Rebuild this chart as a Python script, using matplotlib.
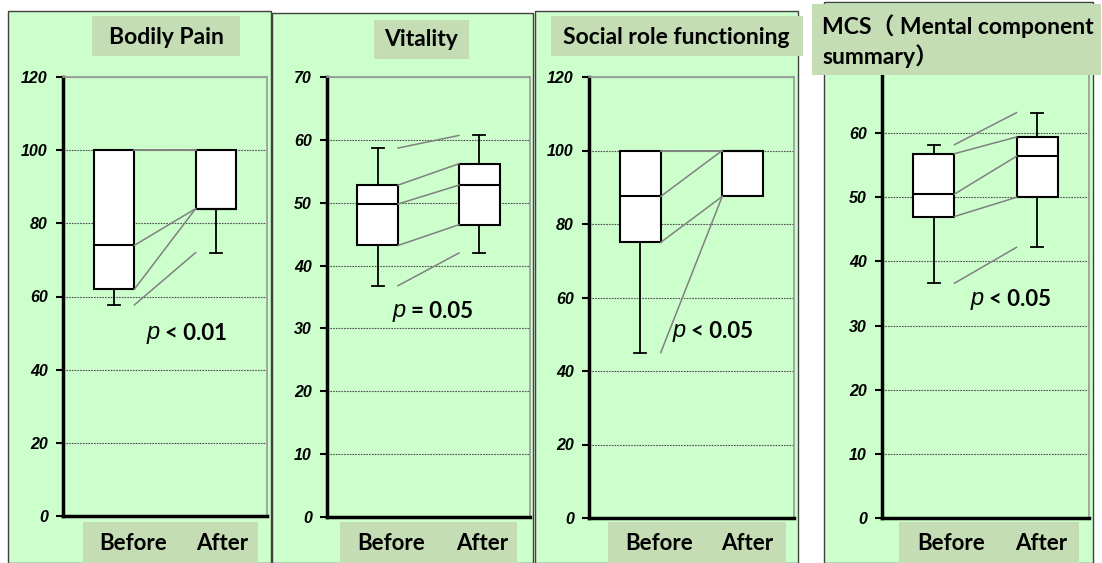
import matplotlib.pyplot as plt
from matplotlib.patches import Rectangle
from matplotlib.transforms import offset_copy

W, H = 1102, 563

titles = ["Bodily Pain", "Vitality", "Social role functioning",
          "MCS（ Mental component\nsummary）"]
groups = ["Before", "After"]
# whisker low, Q1, median, Q3, whisker high
pain_before = [57.7, 62, 74, 100, 100]
pain_after = [72, 84, 84, 100, 100]
vit_before = [36.8, 43.2, 49.8, 52.8, 58.7]
vit_after = [42, 46.5, 52.8, 56.2, 60.7]
social_before = [45, 75, 87.5, 100, 100]
social_after = [87.5, 87.5, 100, 100, 100]
mcs_before = [36.6, 47, 50.5, 56.8, 58.2]
mcs_after = [42.2, 50, 56.4, 59.4, 63.2]
p_signs = ["< 0.01", "= 0.05", "< 0.05", "< 0.05"]
y_max = [120, 70, 120, 70]
y_step = [20, 10, 20, 10]

series = [(pain_before, pain_after), (vit_before, vit_after),
          (social_before, social_after), (mcs_before, mcs_after)]

# layout in pixels: outer panel, title box, axes, label box, group label x, p text
layout = [
    dict(outer=(8, 11, 271), tbox=(92, 16, 240, 56), ax=(63, 77, 267, 516),
         lbox=(83, 258), lx=(133, 222), ptxt=(147, 333), tpos=(166, 37)),
    dict(outer=(272, 13, 533), tbox=(374, 20, 469, 59), ax=(327, 77, 530, 517),
         lbox=(340, 517), lx=(391, 482), ptxt=(393, 311), tpos=(421, 40)),
    dict(outer=(535, 11, 798), tbox=(551, 16, 803, 56), ax=(589, 77, 794, 518),
         lbox=(608, 786), lx=(659, 747), ptxt=(673, 331), tpos=(676, 37)),
    dict(outer=(824, 2, 1093), tbox=(812, 4, 1101, 75), ax=(882, 69, 1089, 518),
         lbox=(899, 1079), lx=(951, 1041), ptxt=(971, 299), tpos=(822, 41)),
]

GREEN = "#CCFFCC"
TBOX = "#C4DDB4"

# tick labels: bold italic Arial-like
plt.rcParams["font.family"] = "Liberation Sans"
plt.rcParams["font.weight"] = "bold"
plt.rcParams["font.style"] = "italic"
plt.rcParams["ytick.labelsize"] = 11.5


def fx(x):
    return x / W


def fy(y):
    return 1 - y / H


def stats(v):
    return dict(whislo=v[0], q1=v[1], med=v[2], q3=v[3], whishi=v[4], fliers=[])


fig = plt.figure(figsize=(W / 100, H / 100), dpi=100)
fig.patch.set_facecolor("white")

for i in range(4):
    L = layout[i]
    before, after = series[i]

    # green panel behind each chart
    x0, y0, x1 = L["outer"]
    fig.add_artist(Rectangle((fx(x0), 0), fx(x1) - fx(x0), fy(y0),
                             transform=fig.transFigure, facecolor=GREEN,
                             edgecolor="#404040", lw=1, zorder=-2))

    a0, a1, a2, a3 = L["ax"]
    ax = fig.add_axes([fx(a0), fy(a3), fx(a2) - fx(a0), fy(a1) - fy(a3)])
    ax.set_facecolor(GREEN)
    ax.set_xlim(0.5, 2.5)
    ax.set_ylim(0, y_max[i])
    ax.set_yticks(range(0, y_max[i] + 1, y_step[i]))
    ax.tick_params(axis="y", direction="out", length=5, width=1.5, pad=6)
    ax.yaxis.grid(True, linestyle=(0, (1.5, 1)), color="#505050", lw=0.8)
    ax.set_axisbelow(True)
    ax.spines["left"].set_linewidth(2.5)
    ax.spines["bottom"].set_linewidth(2.5)
    for s in ["top", "right"]:
        ax.spines[s].set_color("#999999")
        ax.spines[s].set_linewidth(1.2)

    ax.bxp([stats(before), stats(after)], positions=[1, 2], widths=0.4,
           showfliers=False, patch_artist=True, capwidths=0.12,
           boxprops=dict(facecolor="white", edgecolor="black", lw=1.5),
           medianprops=dict(color="black", lw=1.5),
           whiskerprops=dict(color="black", lw=1.3),
           capprops=dict(color="black", lw=1.3))
    ax.set_xticks([])

    # grey lines joining matching statistics
    for k in range(5):
        ax.plot([1.2, 1.8], [before[k], after[k]], color="#808080", lw=1.1, zorder=3)

    # title box
    t0, t1, t2, t3 = L["tbox"]
    fig.add_artist(Rectangle((fx(t0), fy(t3)), fx(t2) - fx(t0), fy(t1) - fy(t3),
                             transform=fig.transFigure, facecolor=TBOX,
                             edgecolor="none", zorder=5))
    tx, ty = L["tpos"]
    if i == 3:
        fig.text(fx(tx), fy(ty), titles[i], ha="left", va="center",
                 family=["Lato", "Noto Sans CJK KR"], fontweight="bold", style="normal",
                 fontsize=16.5, linespacing=1.3, zorder=6)
    else:
        fig.text(fx(tx), fy(ty), titles[i], ha="center", va="center",
                 family="Lato", fontweight="bold", style="normal", fontsize=16.5, zorder=6)

    # group label box
    b0, b1 = L["lbox"]
    fig.add_artist(Rectangle((fx(b0), 0), fx(b1) - fx(b0), fy(522),
                             transform=fig.transFigure, facecolor=TBOX,
                             edgecolor="none", zorder=5))
    for g, gx in zip(groups, L["lx"]):
        fig.text(fx(gx), fy(543), g, ha="center", va="center", family="Lato",
                 fontweight="bold", style="normal", fontsize=16, zorder=6)

    # p value
    px, py = L["ptxt"]
    fig.text(fx(px), fy(py), "p", ha="left", va="center", family="Liberation Sans",
             style="italic", fontweight="normal", fontsize=17, zorder=6)
    tr = offset_copy(fig.transFigure, fig=fig, x=13, y=0, units="points")
    fig.text(fx(px), fy(py), p_signs[i], ha="left", va="center", family="Lato",
             fontweight="bold", style="normal", fontsize=16, transform=tr, zorder=6)

fig.savefig("out.png", dpi=100)
